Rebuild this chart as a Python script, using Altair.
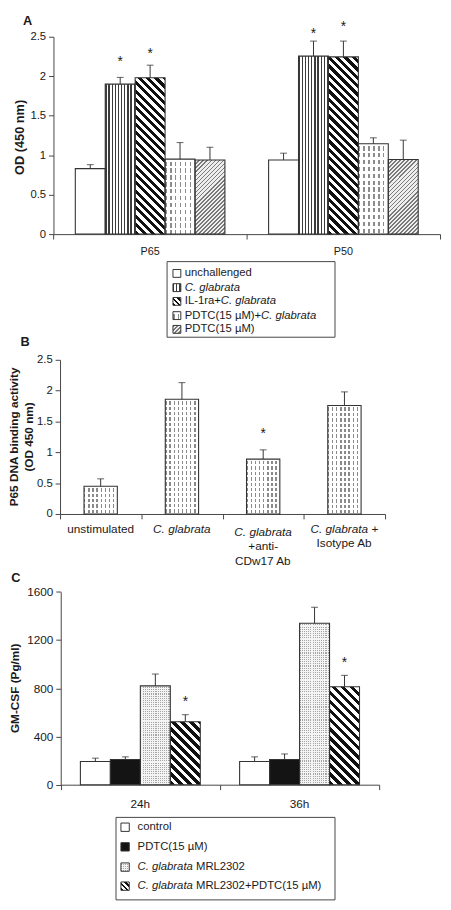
import math
import altair as alt
import pandas as pd

# ------------------------------------------------------------------ data
A_groups = ["P65", "P50"]
A_legend = [
    [("unchallenged", False)],
    [("C. glabrata", True)],
    [("IL-1ra+", False), ("C. glabrata", True)],
    [("PDTC(15 µM)+", False), ("C. glabrata", True)],
    [("PDTC(15 µM)", False)],
]
A_series = ["".join(t for t, _ in parts) for parts in A_legend]
A_P65 = [0.83, 1.90, 1.98, 0.95, 0.94]
A_P65_err = [0.05, 0.085, 0.16, 0.21, 0.16]
A_P65_star = [None, 2.22, 2.32, None, None]
A_P50 = [0.94, 2.255, 2.245, 1.145, 0.945]
A_P50_err = [0.085, 0.19, 0.20, 0.075, 0.245]
A_P50_star = [None, 2.575, 2.66, None, None]
A_ticks = [0, 0.5, 1, 1.5, 2, 2.5]

B_categories = ["unstimulated", "C. glabrata", "C. glabrata +anti-CDw17 Ab", "C. glabrata + Isotype Ab"]
B_label_lines = [
    [[("unstimulated", False)]],
    [[("C. glabrata", True)]],
    [[("C. glabrata", True)], [("+anti-", False)], [("CDw17 Ab", False)]],
    [[("C. glabrata", True), (" +", False)], [("Isotype Ab", False)]],
]
B_values = [0.45, 1.86, 0.89, 1.76]
B_err = [0.12, 0.27, 0.15, 0.22]
B_star = [None, None, 1.34, None]
B_ticks = [0, 0.5, 1, 1.5, 2, 2.5]

C_groups = ["24h", "36h"]
C_legend = [
    [("control", False)],
    [("PDTC(15 µM)", False)],
    [("C. glabrata", True), (" MRL2302", False)],
    [("C. glabrata", True), (" MRL2302+PDTC(15 µM)", False)],
]
C_series = ["".join(t for t, _ in parts) for parts in C_legend]
C_24h = [193, 209, 820, 522]
C_24h_err = [27, 22, 98, 59]
C_24h_star = [None, None, None, 706]
C_36h = [193, 209, 1339, 812]
C_36h_err = [38, 46, 133, 95]
C_36h_star = [None, None, None, 1030]
C_ticks = [0, 400, 800, 1200, 1600]

# ------------------------------------------------------------------ style / layout
FONT = "Liberation Sans"
INK = "#333333"
AXC = "#444444"
TXT = "#1a1a1a"
W, H = 443, 901

A_kinds = ["white", "vstripe", "diag", "dash", "finediag"]
B_kind = "dashB"
C_kinds = ["white", "black", "stipple", "diag"]

CW = {' ': 278, '(': 333, ')': 333, '+': 584, '-': 333, '.': 278, '/': 278, 'µ': 556,
      'A': 667, 'B': 667, 'C': 722, 'D': 722, 'F': 611, 'G': 778, 'I': 278, 'L': 556,
      'M': 833, 'N': 722, 'O': 778, 'P': 667, 'R': 722, 'S': 667, 'T': 611, 'W': 944,
      'a': 556, 'b': 556, 'c': 500, 'd': 556, 'e': 556, 'f': 278, 'g': 556, 'h': 556,
      'i': 222, 'k': 500, 'l': 222, 'm': 833, 'n': 556, 'o': 556, 'p': 556, 'r': 333,
      's': 500, 't': 278, 'u': 556, 'v': 500, 'w': 722, 'y': 500}


def tw(s, fs):
    return sum(CW.get(c, 556) for c in s) * fs / 1000.0


def layout_parts(parts, fs):
    cur, out = 0.0, []
    for t, it in parts:
        s = t.strip()
        lead = len(t) - len(t.lstrip())
        cur += tw(t[:lead], fs)
        out.append((s, it, cur))
        cur += tw(s, fs)
    return out, cur


def stops_seq(n, fg, bg, duty):
    n = max(n, 0.5)
    out, k = [], 0
    while k / n < 1 - 1e-9:
        a = round(k / n, 4)
        b = round(min((k + duty) / n, 1.0), 4)
        c = round(min((k + 1) / n, 1.0), 4)
        out += [{"offset": a, "color": fg}, {"offset": b, "color": fg},
                {"offset": b, "color": bg}, {"offset": c, "color": bg}]
        k += 1
    return out


def grad(x1, y1, x2, y2, stops):
    return {"gradient": "linear", "x1": round(x1, 4), "y1": round(y1, 4),
            "x2": round(x2, 4), "y2": round(y2, 4), "stops": stops}


def vstripes(w, period, fg, bg, duty):
    return grad(0, 0, 1, 0, stops_seq(w / period, fg, bg, duty))


def hbands(h, period, fg, bg, duty):
    return grad(0, 0, 0, 1, stops_seq(h / period, fg, bg, duty))


def diag(w, h, period, fg, bg, duty, back=True):
    h = max(h, 1.0)
    k = (w + h) / (w * w + h * h)
    n = (w + h) / math.sqrt(2) / period
    if back:
        return grad(0, 1, w * k, 1 - h * k, stops_seq(n, fg, bg, duty))
    return grad(0, 0, w * k, h * k, stops_seq(n, fg, bg, duty))


CLEAR = "rgba(255,255,255,0)"


def fills_for(kind, w, h, dp=6.0):
    if kind == "white":
        return ["#ffffff"]
    if kind == "black":
        return ["#141414"]
    if kind == "vstripe":
        return [vstripes(w, 3.2, "#3c3c3c", "#ffffff", 0.42)]
    if kind == "diag":
        return [diag(w, h, dp, "#111111", "#ffffff", 0.5, True)]
    if kind == "finediag":
        return [diag(w, h, 2.9, "#7a7a7a", "#eeeeee", 0.45, False)]
    if kind == "dash":
        return [vstripes(w, 5.0, "#8c8c8c", "#ffffff", 0.32), hbands(h, 7.0, "#ffffff", CLEAR, 0.35)]
    if kind == "dashB":
        return [vstripes(w, 4.2, "#8a8a8a", "#ffffff", 0.35), hbands(h, 5.5, "#ffffff", CLEAR, 0.35)]
    if kind == "stipple":
        return [vstripes(w, 2.2, "#a6a6a6", "#f4f4f4", 0.5), hbands(h, 2.2, "#f4f4f4", CLEAR, 0.5)]
    return ["#ffffff"]


def axis_y(offset, values, fmt, fs):
    return alt.Axis(orient="left", offset=offset, values=values, format=fmt, title=None, grid=False,
                    tickSize=5, tickWidth=1, tickColor=AXC, domainColor=AXC, domainWidth=1,
                    labelPadding=3, labelFont=FONT, labelFontSize=fs, labelColor=TXT,
                    labelOverlap=False, labelFlush=False)


def axis_x(offset):
    return alt.Axis(orient="bottom", offset=offset, labels=False, title=None, grid=False,
                    tickBand="extent", tickSize=5, tickWidth=1, tickColor=AXC,
                    domainColor=AXC, domainWidth=1)


def grouped_panel(groups, series, kinds, vals, errs, stars, x0, x1, y0, y1, ymax, po,
                  ticks, fmt, tick_fs, label_y, label_fs, dp):
    rows = []
    for g, gv, ge, gs in zip(groups, vals, errs, stars):
        for s, v, e, st in zip(series, gv, ge, gs):
            rows.append({"group": g, "series": s, "value": v, "top": v + e, "star": st})
    df = pd.DataFrame(rows)
    xs = alt.Scale(domain=groups, range=[x0, x1], paddingInner=0, paddingOuter=0)
    ys = alt.Scale(domain=[0, ymax], range=[y0, y1], nice=False, zero=True)
    ax_x = axis_x(y0 - H)
    ax_y = axis_y(-x0, ticks, fmt, tick_fs)
    X = alt.X("group:N", scale=xs, axis=ax_x)
    XO = alt.XOffset("series:N", scale=alt.Scale(domain=series, paddingInner=0, paddingOuter=po))

    def Y(f):
        return alt.Y(f + ":Q", scale=ys, axis=ax_y)

    ppu = (y0 - y1) / ymax
    bw = (x1 - x0) / len(groups) / (len(series) + 2 * po)
    base = alt.Chart(df)
    layers = []
    for r in rows:
        kind = kinds[series.index(r["series"])]
        for f in fills_for(kind, bw, r["value"] * ppu, dp):
            layers.append(
                base.transform_filter(f"datum.group == '{r['group']}' && datum.series == '{r['series']}'")
                .mark_bar(fill=f, strokeWidth=0)
                .encode(x=X, xOffset=XO, y=Y("value")))
    layers.append(base.mark_bar(fill="transparent", stroke=INK, strokeWidth=1.1)
                  .encode(x=X, xOffset=XO, y=Y("value")))
    layers.append(base.mark_rule(color=INK, strokeWidth=1)
                  .encode(x=X, xOffset=XO, y=Y("value"), y2="top:Q"))
    layers.append(base.mark_tick(orient="horizontal", size=7, thickness=1.1, color=INK)
                  .encode(x=X, xOffset=XO, y=Y("top")))
    layers.append(base.transform_filter("isValid(datum.star)")
                  .mark_text(text="*", font=FONT, fontSize=14, color=TXT, baseline="alphabetic", dy=7)
                  .encode(x=X, xOffset=XO, y=Y("star")))
    layers.append(alt.Chart(pd.DataFrame({"group": groups}))
                  .mark_text(font=FONT, fontSize=label_fs, color=TXT, baseline="middle")
                  .encode(x=X, y=alt.value(label_y), text="group:N"))
    return alt.layer(*layers)


def simple_panel(cats, kind, vals, errs, stars, x0, x1, y0, y1, ymax, band, ticks, fmt,
                 tick_fs, label_lines, label_ys, label_fs):
    rows = [{"cat": c, "value": v, "top": v + e, "star": s}
            for c, v, e, s in zip(cats, vals, errs, stars)]
    df = pd.DataFrame(rows)
    xs = alt.Scale(domain=cats, range=[x0, x1], paddingInner=0, paddingOuter=0)
    ys = alt.Scale(domain=[0, ymax], range=[y0, y1], nice=False, zero=True)
    X = alt.X("cat:N", scale=xs, axis=axis_x(y0 - H))
    ax_y = axis_y(-x0, ticks, fmt, tick_fs)

    def Y(f):
        return alt.Y(f + ":Q", scale=ys, axis=ax_y)

    ppu = (y0 - y1) / ymax
    bw = (x1 - x0) / len(cats) * band
    base = alt.Chart(df)
    layers = []
    for r in rows:
        for f in fills_for(kind, bw, r["value"] * ppu):
            layers.append(base.transform_filter(f"datum.cat == '{r['cat']}'")
                          .mark_bar(width={"band": band}, fill=f, strokeWidth=0)
                          .encode(x=X, y=Y("value")))
    layers.append(base.mark_bar(width={"band": band}, fill="transparent", stroke=INK, strokeWidth=1.1)
                  .encode(x=X, y=Y("value")))
    layers.append(base.mark_rule(color=INK, strokeWidth=1).encode(x=X, y=Y("value"), y2="top:Q"))
    layers.append(base.mark_tick(orient="horizontal", size=7, thickness=1.1, color=INK)
                  .encode(x=X, y=Y("top")))
    layers.append(base.transform_filter("isValid(datum.star)")
                  .mark_text(text="*", font=FONT, fontSize=14, color=TXT, baseline="alphabetic", dy=7)
                  .encode(x=X, y=Y("star")))
    for c, lines, lys in zip(cats, label_lines, label_ys):
        for line, ly in zip(lines, lys):
            laid, tot = layout_parts(line, label_fs)
            for s, it, off in laid:
                layers.append(alt.Chart(pd.DataFrame({"cat": [c]}))
                              .mark_text(text=s, font=FONT, fontSize=label_fs,
                                         fontStyle="italic" if it else "normal",
                                         align="left", baseline="middle", color=TXT,
                                         dx=round(-tot / 2 + off, 2))
                              .encode(x=X, y=alt.value(ly)))
    return alt.layer(*layers)


ONE = pd.DataFrame({"k": [0]})


def text_at(s, x, y, fs, bold=False, italic=False, angle=0, align="center"):
    kw = dict(text=s, font=FONT, fontSize=fs, color=TXT, align=align, baseline="middle",
              fontWeight="bold" if bold else "normal", fontStyle="italic" if italic else "normal")
    if angle:
        kw["angle"] = angle
    return alt.Chart(ONE).mark_text(**kw).encode(x=alt.value(x), y=alt.value(y))


def legend_layers(legend, kinds, box, sw_x, sw, text_x, rows_y, fs, dp):
    L = [alt.Chart(ONE).mark_rect(fill="#ffffff", stroke=AXC, strokeWidth=1)
         .encode(x=alt.value(box[0]), x2=alt.value(box[1]), y=alt.value(box[2]), y2=alt.value(box[3]))]
    for parts, kind, y in zip(legend, kinds, rows_y):
        for f in fills_for(kind, sw, sw, dp):
            L.append(alt.Chart(ONE).mark_rect(fill=f, strokeWidth=0)
                     .encode(x=alt.value(sw_x), x2=alt.value(sw_x + sw),
                             y=alt.value(y - sw / 2), y2=alt.value(y + sw / 2)))
        L.append(alt.Chart(ONE).mark_rect(fill="transparent", stroke=INK, strokeWidth=1)
                 .encode(x=alt.value(sw_x), x2=alt.value(sw_x + sw),
                         y=alt.value(y - sw / 2), y2=alt.value(y + sw / 2)))
        laid, _ = layout_parts(parts, fs)
        for s, it, off in laid:
            L.append(text_at(s, round(text_x + off, 2), y, fs, italic=it, align="left"))
    return L


panelA = grouped_panel(A_groups, A_series, A_kinds, [A_P65, A_P50], [A_P65_err, A_P50_err],
                       [A_P65_star, A_P50_star], 46.3, 440.0, 222.0, 21.0, 2.5, 0.73,
                       A_ticks, "~g", 11.5, 240, 11, 6.0)
panelB = simple_panel(B_categories, B_kind, B_values, B_err, B_star, 53.0, 384.0, 507.0, 350.0, 2.5,
                      0.41, B_ticks, "~g", 11.5, B_label_lines,
                      [[522.7], [522.7], [525.5, 540.0, 555.0], [522.7, 537.0]], 12)
panelC = grouped_panel(C_groups, C_series, C_kinds, [C_24h, C_36h], [C_24h_err, C_36h_err],
                       [C_24h_star, C_36h_star], 53.7, 378.0, 782.7, 586.3, 1600, 0.656,
                       C_ticks, "d", 12, 802, 12, 6.5)

annots = [
    text_at("A", 20, 5, 13, bold=True),
    text_at("OD (450 nm)", 12, 123.5, 13, bold=True, angle=270),
    text_at("B", 17.3, 332, 13, bold=True),
    text_at("P65 DNA binding activity", 6.5, 428.5, 12, bold=True, angle=270),
    text_at("(OD 450 nm)", 21.5, 428.5, 12, bold=True, angle=270),
    text_at("C", 8, 572, 13, bold=True),
    text_at("GM-CSF (Pg/ml)", 7, 684.5, 12, bold=True, angle=270),
]
annots += legend_layers(A_legend, A_kinds, (162, 333, 250, 327), 168, 8, 180,
                        [262, 276.5, 290.5, 305, 319], 11.5, 4.0)
annots += legend_layers(C_legend, C_kinds, (110, 333, 816, 900), 115, 8.5, 132,
                        [826, 846, 866.6, 886], 11.5, 4.0)

chart = (
    alt.layer(panelA, panelB, panelC, *annots)
    .resolve_scale(x="independent", y="independent", xOffset="independent")
    .properties(width=W, height=H, padding=0, autosize=alt.AutoSizeParams(type="none"))
    .configure_view(stroke=None)
)

chart.save("out.html", embed_options={"renderer": "svg", "actions": False})
